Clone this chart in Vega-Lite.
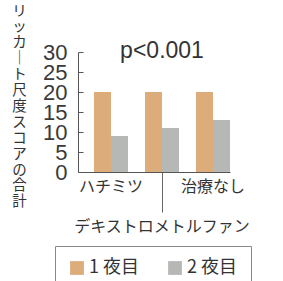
{
  "$schema": "https://vega.github.io/schema/vega-lite/v6.json",
  "autosize": "none",
  "padding": {"left": 78, "top": 52, "right": 53, "bottom": 109},
  "width": 152,
  "height": 120,
  "background": "white",
  "config": {
    "view": {"stroke": null},
    "font": "Liberation Sans, Noto Sans CJK JP",
    "text": {"font": "Liberation Sans, Noto Sans CJK JP"},
    "axis": {"labelOverlap": false, "labelFlush": false, "labelBound": false}
  },
  "datasets": {
    "scores": [
      {"treatment": "ハチミツ", "night": "1 夜目", "score": 20},
      {"treatment": "ハチミツ", "night": "2 夜目", "score": 9},
      {"treatment": "デキストロメトルファン", "night": "1 夜目", "score": 20},
      {"treatment": "デキストロメトルファン", "night": "2 夜目", "score": 11},
      {"treatment": "治療なし", "night": "1 夜目", "score": 20},
      {"treatment": "治療なし", "night": "2 夜目", "score": 13}
    ],
    "note": [
      {"treatment": "デキストロメトルファン", "score": 30, "label": "p<0.001"}
    ]
  },
  "encoding": {
    "x": {
      "field": "treatment",
      "type": "nominal",
      "sort": ["ハチミツ", "デキストロメトルファン", "治療なし"],
      "scale": {"paddingInner": 0.3333, "paddingOuter": 0.157, "align": 1},
      "axis": {
        "title": null,
        "labelAngle": 0,
        "labelFont": "Noto Sans CJK JP",
        "labelFontSize": 16,
        "labelColor": "#333333",
        "labelOverlap": false,
        "labelPadding": {"condition": {"test": "datum.value === 'デキストロメトルファン'", "value": 6}, "value": 6},
        "tickSize": {"condition": {"test": "datum.value === 'デキストロメトルファン'", "value": 40}, "value": 0},
        "tickColor": "#666666",
        "domainColor": "#555555",
        "labelBaseline": "top",
        "labelLimit": 300
      }
    },
    "y": {
      "field": "score",
      "type": "quantitative",
      "scale": {"domain": [0, 30]},
      "axis": {
        "values": [0, 5, 10, 15, 20, 25, 30],
        "grid": false,
        "tickSize": -5,
        "tickColor": "#555555",
        "domainColor": "#555555",
        "labelFont": "Liberation Sans",
        "labelFontSize": 22,
        "labelColor": "#3a3a3a",
        "labelPadding": 16,
        "labelBaseline": "middle",
        "labelOverlap": false,
        "labelFlush": false,
        "title": ["リ", "ッ", "カ", "｜", "ト", "尺", "度", "ス", "コ", "ア", "の", "合", "計"],
        "titleAngle": 0,
        "titleFont": "Noto Sans CJK JP",
        "titleFontSize": 14.5,
        "titleFontWeight": "normal",
        "titleLineHeight": 15.9,
        "titleColor": "#333333",
        "titleAlign": "center",
        "titleBaseline": "top",
        "titleX": -59,
        "titleY": -48
      }
    }
  },
  "layer": [
    {
      "data": {"name": "scores"},
      "mark": {"type": "bar"},
      "encoding": {
        "xOffset": {"field": "night", "type": "nominal", "scale": {"paddingInner": 0, "paddingOuter": 0}},
        "color": {
          "field": "night",
          "type": "nominal",
          "scale": {"domain": ["1 夜目", "2 夜目"], "range": ["#dcac7a", "#b6b8b5"]},
          "legend": {
            "title": null,
            "orient": "none",
            "direction": "horizontal",
            "legendX": -23,
            "legendY": 194,
            "symbolType": "square",
            "symbolSize": 190,
            "symbolStrokeWidth": 0,
            "labelFont": "Noto Sans CJK JP",
            "labelFontSize": 18,
            "labelColor": "#333333",
            "labelOffset": 3,
            "columnPadding": 26,
            "padding": 13,
            "strokeColor": "#888888",
            "fillColor": "white"
          }
        }
      }
    },
    {
      "data": {"name": "note"},
      "mark": {"type": "text", "font": "Liberation Sans", "fontSize": 23, "baseline": "middle", "align": "center", "color": "#333333", "dy": -1},
      "encoding": {
        "text": {"field": "label", "type": "nominal"}
      }
    }
  ]
}
